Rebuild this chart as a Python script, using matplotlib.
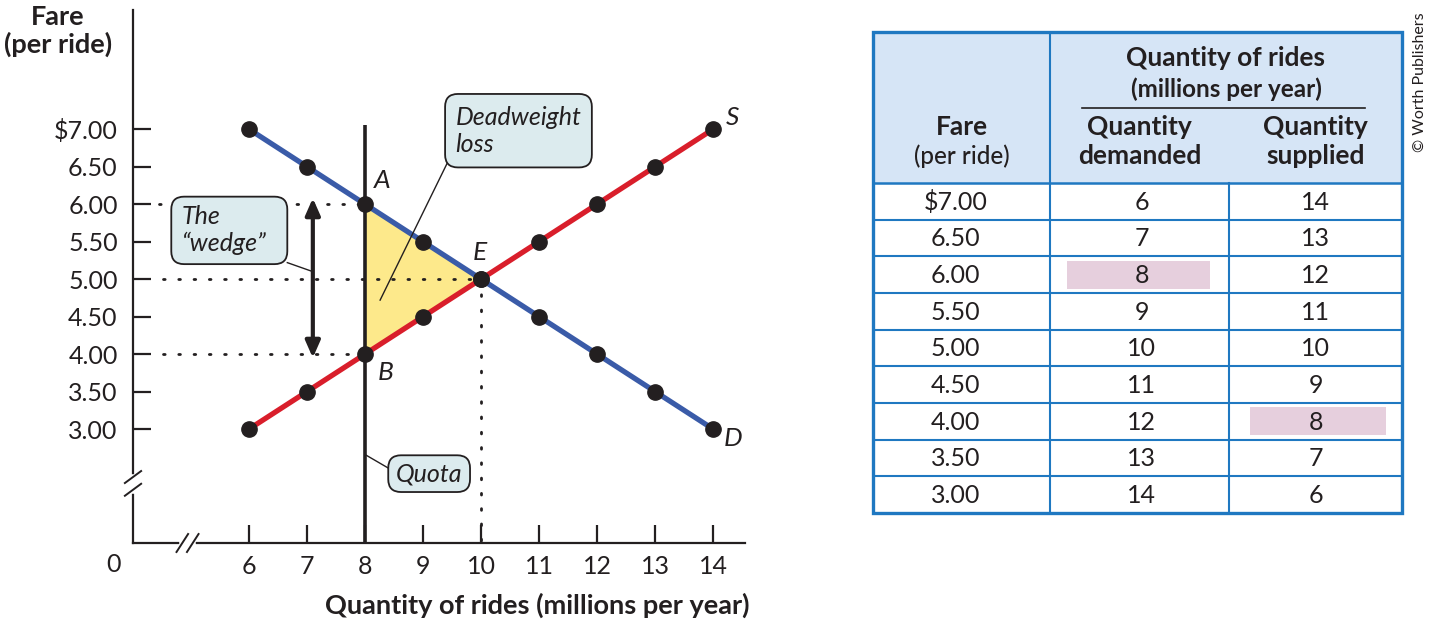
import matplotlib
matplotlib.use("Agg")
import matplotlib.pyplot as plt
from matplotlib.patches import FancyBboxPatch, Polygon, Rectangle

plt.rcParams['font.family'] = ['Lato', 'DejaVu Sans']

# data
fares = [7.00, 6.50, 6.00, 5.50, 5.00, 4.50, 4.00, 3.50, 3.00]
q_demanded = [6, 7, 8, 9, 10, 11, 12, 13, 14]
q_supplied = [14, 13, 12, 11, 10, 9, 8, 7, 6]
fare_labels = ['$7.00', '6.50', '6.00', '5.50', '5.00', '4.50', '4.00', '3.50', '3.00']
x_ticks = [6, 7, 8, 9, 10, 11, 12, 13, 14]
quota = 8
eq_q, eq_p = 10, 5.00
p_demand, p_supply = 6.00, 4.00

BLUE = '#3a5ba8'
RED = '#d91e2b'
INK = '#231f20'
BOXFILL = '#dcebee'
TBLUE = '#1f78c1'

fig = plt.figure(figsize=(14.32, 6.2), dpi=100)
W, H = 1432, 620

ax = fig.add_axes([133 / W, 1 - 543 / H, (745 - 133) / W, (543 - 10) / H])
ax.set_xlim(4.0, 14.55)
ax.set_ylim(1.48, 8.59)
for s in ['top', 'right']:
    ax.spines[s].set_visible(False)
for s in ['left', 'bottom']:
    ax.spines[s].set_linewidth(1.6)
    ax.spines[s].set_color(INK)

ax.set_xticks(x_ticks)
ax.set_xticklabels([str(v) for v in x_ticks])
ax.set_yticks(fares)
ax.set_yticklabels(fare_labels)
ax.tick_params(axis='both', direction='in', length=13, width=1.6, color=INK,
               labelsize=18, labelcolor=INK)
ax.tick_params(axis='y', pad=11)
ax.tick_params(axis='x', pad=9)

# deadweight loss triangle
tri = Polygon([[quota, p_demand], [quota, p_supply], [eq_q, eq_p]], closed=True,
              facecolor='#fde98b', edgecolor='none', zorder=1)
ax.add_patch(tri)

# dotted guides
dot = dict(color=INK, lw=2.0, linestyle=(0, (0.6, 4.9)), dash_capstyle='round', zorder=2)
ax.plot([4.45, quota], [p_demand, p_demand], **dot)
ax.plot([4.52, eq_q], [eq_p, eq_p], **dot)
ax.plot([4.52, quota], [p_supply, p_supply], **dot)
ax.plot([eq_q, eq_q], [eq_p, 1.48], **dot)

# quota line
ax.plot([quota, quota], [1.48, 7.05], color=INK, lw=2.6, zorder=3, solid_capstyle='butt')

# curves
ax.plot(q_demanded, fares, color=BLUE, lw=3.8, zorder=4)
ax.plot(q_supplied, fares, color=RED, lw=3.8, zorder=4)
ax.plot(q_demanded, fares, 'o', color=INK, ms=11, zorder=5)
ax.plot(q_supplied, fares, 'o', color=INK, ms=11, zorder=5)

lab = dict(fontsize=19, style='italic', color=INK, ha='center', va='center')
ax.text(8.3, 6.31, 'A', **lab)
ax.text(8.36, 3.76, 'B', **lab)
ax.text(9.98, 5.36, 'E', **lab)
ax.text(14.34, 7.15, 'S', **lab)
ax.text(14.34, 2.88, 'D', **lab)

# wedge arrow
ax.annotate('', xy=(7.1, 6.08), xytext=(7.1, 3.95),
            arrowprops=dict(arrowstyle='<|-|>,head_length=0.5,head_width=0.22', color=INK,
                            lw=3.0, mutation_scale=20, shrinkA=0, shrinkB=0), zorder=3)

asp = 58 / 75


def callout(x0, y0, x1, y1, lines, anchor, target, center=False):
    ax.plot([anchor[0], target[0]], [anchor[1], target[1]], color=INK, lw=1.0, zorder=6)
    box = FancyBboxPatch((x0, y0), x1 - x0, y1 - y0,
                         boxstyle='round,pad=0,rounding_size=0.22', mutation_aspect=asp,
                         facecolor=BOXFILL, edgecolor=INK, lw=1.3, zorder=7)
    ax.add_patch(box)
    if center:
        ax.text((x0 + x1) / 2, (y0 + y1) / 2, lines, fontsize=18, style='italic', color=INK,
                ha='center', va='center', zorder=8)
    else:
        ax.text(x0 + 0.18, (y0 + y1) / 2, lines, fontsize=18, style='italic', color=INK,
                ha='left', va='center', linespacing=1.2, zorder=8)


callout(9.38, 6.49, 11.91, 7.47, 'Deadweight\nloss', (9.45, 6.6), (8.26, 4.72))
callout(4.66, 5.2, 6.66, 6.1, 'The\n\u201cwedge\u201d', (6.66, 5.22), (7.1, 5.1))
callout(8.40, 2.16, 9.81, 2.65, 'Quota', (8.40, 2.48), (quota, 2.66), center=True)

# axis breaks
ax.plot([4.0, 4.0], [2.17, 2.36], color='white', lw=4, zorder=9, clip_on=False)
for yb in (2.19, 2.36):
    ax.plot([3.86, 4.14], [yb - 0.08, yb + 0.08], color=INK, lw=1.4, zorder=10, clip_on=False)
ax.plot([4.85, 5.03], [1.48, 1.48], color='white', lw=4, zorder=9, clip_on=False)
for xb in (4.85, 5.03):
    ax.plot([xb - 0.1, xb + 0.1], [1.36, 1.60], color=INK, lw=1.4, zorder=10, clip_on=False)

ax.text(3.66, 1.19, '0', fontsize=18, color=INK, ha='center', va='center', clip_on=False)
ax.text(14.62, 0.65, 'Quantity of rides (millions per year)', fontsize=19.5,
        fontweight='bold', color=INK, ha='right', va='center', clip_on=False)
fig.text(58 / W, 1 - 31 / H, 'Fare\n(per ride)', fontsize=19.5, fontweight='bold',
         color=INK, ha='center', va='center', linespacing=1.1)

# table
tx0, tx1, ty0, ty1 = 873, 1402, 32, 513
tb = fig.add_axes([tx0 / W, 1 - ty1 / H, (tx1 - tx0) / W, (ty1 - ty0) / H])
tb.set_xlim(tx0, tx1)
tb.set_ylim(ty1, ty0)
tb.axis('off')
head_bot = 183
c1, c2 = 1050, 1229
row_h = (ty1 - head_bot) / len(fares)
tb.add_patch(Rectangle((tx0, ty0), tx1 - tx0, head_bot - ty0, facecolor='#d6e5f6',
                       edgecolor='none', zorder=0))
cell = dict(fontsize=18, color=INK, ha='center', va='center')
for i, (f, qd, qs) in enumerate(zip(fare_labels, q_demanded, q_supplied)):
    yc = head_bot + (i + 0.5) * row_h
    if qd == quota:
        tb.add_patch(Rectangle((1067, yc - 14), 143, 28, facecolor='#e6cfdd',
                               edgecolor='none', zorder=1))
    if qs == quota:
        tb.add_patch(Rectangle((1250, yc - 14), 136, 28, facecolor='#e6cfdd',
                               edgecolor='none', zorder=1))
    tb.text((tx0 + c1) / 2 - 6, yc + 1, f, zorder=3, **cell)
    tb.text((c1 + c2) / 2 + 2, yc + 1, str(qd), zorder=3, **cell)
    tb.text((c2 + tx1) / 2, yc + 1, str(qs), zorder=3, **cell)
    if i > 0:
        tb.plot([tx0, tx1], [head_bot + i * row_h] * 2, color=TBLUE, lw=1.5, zorder=2)
tb.plot([tx0, tx1], [head_bot, head_bot], color=TBLUE, lw=1.8, zorder=2)
tb.plot([c1, c1], [ty0, ty1], color=TBLUE, lw=1.5, zorder=2)
tb.plot([c2, c2], [head_bot, ty1], color=TBLUE, lw=1.5, zorder=2)
tb.add_patch(Rectangle((tx0, ty0), tx1 - tx0, ty1 - ty0, facecolor='none',
                       edgecolor=TBLUE, lw=2.4, zorder=4, clip_on=False))

hb = dict(fontsize=19, fontweight='bold', color=INK, ha='center', va='center')
tb.text((c1 + tx1) / 2, 58, 'Quantity of rides', **hb)
tb.text((c1 + tx1) / 2, 89, '(millions per year)', fontsize=17.5, fontweight='bold',
        color=INK, ha='center', va='center')
tb.plot([1082, 1365], [108, 108], color=INK, lw=1.2)
tb.text((tx0 + c1) / 2, 127, 'Fare', **hb)
tb.text((tx0 + c1) / 2, 156, '(per ride)', fontsize=17.5, fontweight='medium', color=INK,
        ha='center', va='center')
tb.text((c1 + c2) / 2, 127, 'Quantity', **hb)
tb.text((c1 + c2) / 2, 156, 'demanded', **hb)
tb.text((c2 + tx1) / 2, 127, 'Quantity', **hb)
tb.text((c2 + tx1) / 2, 156, 'supplied', **hb)

fig.text(1420 / W, 1 - 82 / H, '\u00a9 Worth Publishers', fontsize=11.5, color=INK,
         rotation=90, ha='center', va='center')

fig.savefig('out.png', dpi=100)
